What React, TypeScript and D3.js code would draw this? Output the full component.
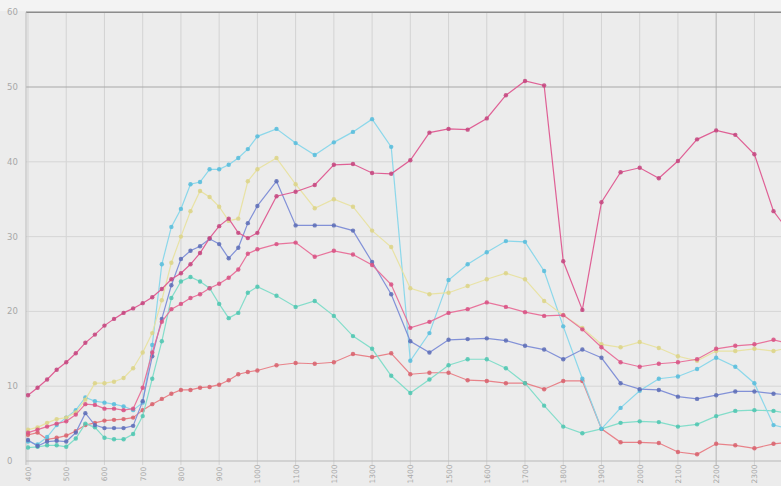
import React from "react";
import * as d3 from "d3";

const xValues = [
  400, 425, 450, 475, 500, 525, 550, 575, 600, 625, 650, 675, 700, 725, 750, 775, 800, 825, 850, 875, 900, 925, 950, 975, 1000,
  1050, 1100, 1150, 1200, 1250, 1300, 1350, 1400, 1450, 1500, 1550, 1600, 1650, 1700, 1750, 1800, 1850, 1900, 1950, 2000,
  2050, 2100, 2150, 2200, 2250, 2300, 2350, 2400,
];

const magenta = [
  8.8, 9.8, 10.9, 12.2, 13.2, 14.4, 15.8, 16.9, 18.1, 19.0, 19.8, 20.4, 21.1, 21.9, 23.0, 24.3, 25.1, 26.3, 27.8, 29.8, 31.4, 32.4, 30.5, 29.8, 30.5,
  35.4, 36.0, 36.9, 39.6, 39.7, 38.5, 38.4, 40.2, 43.9, 44.4, 44.3, 45.8, 48.9, 50.8, 50.2, 26.7, 20.2, 34.6, 38.6, 39.2, 37.8, 40.1, 43.0, 44.2, 43.6, 41.0, 33.4, 30.0,
];
const pink = [
  3.8, 4.2, 4.6, 5.0, 5.3, 6.2, 7.6, 7.5, 7.0, 7.0, 6.8, 7.0, 9.8, 14.5, 18.6, 20.3, 21.0, 21.8, 22.3, 23.1, 23.7, 24.5, 25.6, 27.7, 28.3,
  29.0, 29.2, 27.3, 28.1, 27.6, 26.2, 23.6, 17.8, 18.6, 19.8, 20.3, 21.2, 20.6, 19.9, 19.4, 19.5, 17.6, 15.2, 13.2, 12.6, 13.0, 13.2, 13.6, 15.0, 15.4, 15.6, 16.2, 15.6,
];
const red = [
  3.5, 3.8, 2.9, 3.1, 3.4, 4.0, 4.8, 5.1, 5.4, 5.5, 5.6, 5.8, 6.8, 7.6, 8.3, 9.0, 9.5, 9.5, 9.8, 9.9, 10.2, 10.8, 11.6, 11.9, 12.1,
  12.8, 13.1, 13.0, 13.2, 14.3, 13.9, 14.4, 11.6, 11.8, 11.8, 10.8, 10.7, 10.4, 10.4, 9.6, 10.7, 10.7, 4.3, 2.5, 2.5, 2.4, 1.2, 0.9, 2.3, 2.1, 1.7, 2.3, 2.5,
];
const blue = [
  2.8, 2.0, 2.6, 2.7, 2.6, 3.8, 6.4, 4.8, 4.4, 4.4, 4.4, 4.7, 8.0, 14.0, 19.0, 23.5, 27.0, 28.1, 28.7, 29.7, 29.0, 27.1, 28.5, 31.8, 34.1,
  37.4, 31.5, 31.5, 31.5, 30.8, 26.6, 22.3, 16.0, 14.5, 16.2, 16.3, 16.4, 16.1, 15.4, 14.9, 13.6, 14.9, 13.8, 10.4, 9.6, 9.5, 8.6, 8.3, 8.8, 9.3, 9.3, 9.0, 8.8,
];
const yellow = [
  4.2, 4.5, 5.1, 5.6, 5.8, 6.5, 8.2, 10.4, 10.4, 10.6, 11.1, 12.4, 14.5, 17.1, 21.5, 26.5, 30.0, 33.4, 36.1, 35.3, 34.0, 32.1, 32.4, 37.4, 39.0,
  40.5, 37.0, 33.8, 35.0, 34.0, 30.8, 28.6, 23.1, 22.3, 22.5, 23.4, 24.3, 25.1, 24.3, 21.4, 19.5, 17.8, 15.6, 15.2, 15.9, 15.1, 14.0, 13.4, 14.7, 14.7, 15.0, 14.7, 15.3,
];
const cyan = [
  2.6, 2.2, 3.2, 4.8, 5.8, 6.8, 8.5, 8.0, 7.8, 7.6, 7.3, 6.8, 7.8, 15.5, 26.3, 31.3, 33.7, 37.0, 37.3, 39.0, 39.0, 39.6, 40.5, 41.7, 43.4,
  44.4, 42.5, 40.9, 42.6, 44.0, 45.7, 42.0, 13.4, 17.1, 24.2, 26.3, 27.9, 29.4, 29.3, 25.4, 18.0, 11.0, 4.3, 7.1, 9.4, 11.0, 11.3, 12.3, 13.8, 12.6, 10.4, 4.8, 4.2,
];
const teal = [
  1.8, 1.9, 2.1, 2.1, 1.9, 3.0, 5.0, 4.5, 3.1, 2.9, 2.9, 3.6, 6.0, 11.0, 16.0, 21.8, 24.0, 24.6, 24.0, 23.1, 21.0, 19.1, 19.8, 22.5, 23.3,
  22.1, 20.6, 21.4, 19.4, 16.7, 15.0, 11.4, 9.1, 10.9, 12.8, 13.6, 13.6, 12.4, 10.4, 7.4, 4.6, 3.7, 4.3, 5.1, 5.3, 5.2, 4.6, 4.9, 6.0, 6.7, 6.8, 6.7, 6.3,
];

const xTickValues = [400, 500, 600, 700, 800, 900, 1000, 1100, 1200, 1300, 1400, 1500, 1600, 1700, 1800, 1900, 2000, 2100, 2200, 2300];
const yTickValues = [0, 10, 20, 30, 40, 50, 60];

const seriesList = [
  { name: "red", values: red, line: "#e87c84", dot: "#d8606c" },
  { name: "teal", values: teal, line: "#7ddcc8", dot: "#4cc6b0" },
  { name: "cyan", values: cyan, line: "#86d6ea", dot: "#56bcdc" },
  { name: "yellow", values: yellow, line: "#e8e2a0", dot: "#dcd486" },
  { name: "blue", values: blue, line: "#7c8cd6", dot: "#5c6cb6" },
  { name: "pink", values: pink, line: "#e86e98", dot: "#d85082" },
  { name: "magenta", values: magenta, line: "#de5890", dot: "#c4447e" },
];

const W = 781;
const H = 486;

export default function App() {
  const x = d3.scaleLinear().domain([400, 2300]).range([28, 754.4]);
  const y = d3.scaleLinear().domain([0, 60]).range([461, 12.2]);
  const plotLeft = 26;
  const plotRight = W;

  const line = d3
    .line<[number, number]>()
    .x((d) => x(d[0]))
    .y((d) => y(d[1]));

  return (
    <div style={{ position: "absolute", left: 0, top: 0 }}>
      <svg width={W} height={H} style={{ display: "block" }} fontFamily="DejaVu Sans, sans-serif">
        <defs>
          <clipPath id="plotClip">
            <rect x={plotLeft} y={0} width={plotRight - plotLeft} height={H} />
          </clipPath>
        </defs>
        <rect x={0} y={0} width={W} height={H} fill="#ececec" />
        <rect x={0} y={0} width={W} height={11} fill="#f3f3f3" />
        {xTickValues.map((t) => (
          <line
            key={"vx" + t}
            x1={x(t)}
            x2={x(t)}
            y1={y(60)}
            y2={y(0) + 4}
            stroke={t === 2200 ? "#b4b4b4" : "#d3d3d3"}
            strokeWidth={1}
          />
        ))}
        {yTickValues.map((t) => (
          <line
            key={"hy" + t}
            x1={plotLeft}
            x2={plotRight}
            y1={y(t)}
            y2={y(t)}
            stroke={t === 60 ? "#8c8c8c" : t === 50 ? "#a8a8a8" : t === 0 ? "#b8b8b8" : "#d6d6d6"}
            strokeWidth={t === 60 ? 1.6 : t === 50 ? 1.2 : 1}
          />
        ))}
        <line x1={plotLeft} x2={plotLeft} y1={y(60)} y2={y(0) + 4} stroke="#bcbcbc" strokeWidth={1} />
        {yTickValues.map((t) => (
          <text key={"yl" + t} x={7} y={y(t) + 3} fontSize={8.5} fill="#a8a8a8">
            {t}
          </text>
        ))}
        {xTickValues.map((t) => (
          <text
            key={"xl" + t}
            transform={`translate(${x(t) + 3},474) rotate(-90)`}
            textAnchor="middle"
            fontSize={7.5}
            fill="#a8a8a8"
          >
            {t}
          </text>
        ))}
        <g clipPath="url(#plotClip)">
          {seriesList.map((s) => {
            const pts: [number, number][] = xValues.map((v, i) => [v, s.values[i]]);
            return (
              <g key={s.name}>
                <path d={line(pts) || ""} fill="none" stroke={s.line} strokeWidth={1.2} opacity={0.95} />
                {pts.map((p, i) => (
                  <circle key={i} cx={x(p[0])} cy={y(p[1])} r={2.2} fill={s.dot} opacity={0.85} />
                ))}
              </g>
            );
          })}
        </g>
      </svg>
    </div>
  );
}
